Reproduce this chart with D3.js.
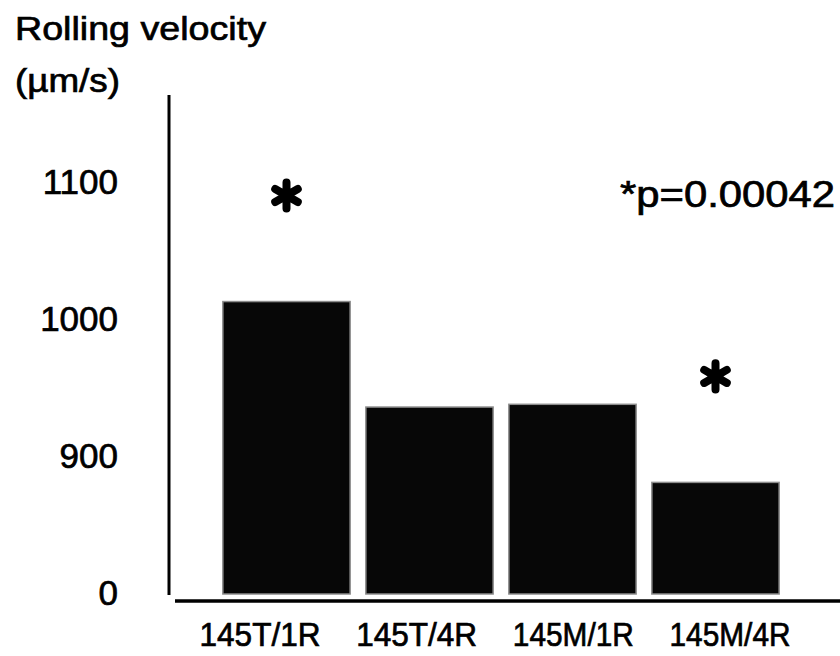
<!DOCTYPE html>
<html>
<head>
<meta charset="utf-8">
<script src="https://cdn.jsdelivr.net/npm/d3@7"></script>
<style>
	body { margin: 0; background: #fff; }
	text { font-family: "Liberation Sans", Arial, Helvetica, sans-serif; fill: #000; stroke: #000; stroke-width: 0.7px; }
</style>
</head>
<body>
<div id="chart"></div>
<script>
var width = 840;
var height = 656;

// Data (axis is broken: the "0" label sits where 800 would be)
var categories = ["145T/1R", "145T/4R", "145M/1R", "145M/4R"];
var velocity = [1012, 935, 937, 880];
var significant = [true, false, false, true];
var tickValues = [800, 900, 1000, 1100];
var tickLabels = ["0", "900", "1000", "1100"];
var pLabel = "*p=0.00042";

var svg = d3.select("#chart")
	.append("svg")
		.attr("width", width)
		.attr("height", height)
	;

var x = d3.scaleBand()
	.domain(categories)
	.range([215, 787])
	.paddingInner(0.11)
	.paddingOuter(0.055)
	;

// category labels drift a bit wider than the bars in the original
var xLabel = d3.scalePoint()
	.domain(categories)
	.range([260, 730])
	;

var y = d3.scaleLinear()
	.domain([800, 1100])
	.range([592, 181])
	;

// Bars
svg.selectAll("rect.bar")
	.data(velocity)
	.enter()
	.append("rect")
		.attr("class", "bar")
		.attr("x", (d, i) => x(categories[i]))
		.attr("y", d => y(d))
		.attr("width", x.bandwidth())
		.attr("height", d => y(800) + 2 - y(d))
		.attr("fill", "#070707")
		.attr("stroke", "#8c8c8c")
		.attr("stroke-width", 1.5)
	;

// Significance asterisks above bars
var star = d3.symbol().type(d3.symbolAsterisk).size(480);
svg.selectAll("path.star")
	.data(categories.filter((c, i) => significant[i]))
	.enter()
	.append("path")
		.attr("class", "star")
		.attr("d", star)
		.attr("transform", d => "translate(" + (x(d) + x.bandwidth() / 2) + "," + (y(velocity[categories.indexOf(d)]) - 106) + ")")
		.attr("fill", "none")
		.attr("stroke", "#000")
		.attr("stroke-width", 8)
		.attr("stroke-linecap", "round")
	;

// Y axis line
svg.append("line")
	.attr("x1", 169).attr("x2", 169)
	.attr("y1", 95).attr("y2", y(800) + 3)
	.attr("stroke", "#000")
	.attr("stroke-width", 3)
	;

// X axis line
svg.append("line")
	.attr("x1", 175).attr("x2", width)
	.attr("y1", 601).attr("y2", 601)
	.attr("stroke", "#000")
	.attr("stroke-width", 3.5)
	;

// Y tick labels
svg.selectAll("text.ytick")
	.data(tickValues)
	.enter()
	.append("text")
		.attr("class", "ytick")
		.attr("x", 118)
		.attr("y", d => y(d))
		.attr("dy", "0.36em")
		.attr("text-anchor", "end")
		.attr("font-size", 35)
		.text((d, i) => tickLabels[i])
	;

// Category labels
svg.selectAll("text.xtick")
	.data(categories)
	.enter()
	.append("text")
		.attr("class", "xtick")
		.attr("x", d => xLabel(d))
		.attr("y", 646)
		.attr("text-anchor", "middle")
		.attr("font-size", 33)
		.attr("textLength", 121)
		.attr("lengthAdjust", "spacingAndGlyphs")
		.text(d => d)
	;

// Axis title
svg.append("text")
	.attr("x", 15).attr("y", 40)
	.attr("font-size", 33)
	.attr("textLength", 251)
	.attr("lengthAdjust", "spacingAndGlyphs")
	.text("Rolling velocity");

svg.append("text")
	.attr("x", 15).attr("y", 92)
	.attr("font-size", 33)
	.attr("textLength", 105)
	.attr("lengthAdjust", "spacingAndGlyphs")
	.text("(\u00b5m/s)");

// p-value note
svg.append("text")
	.attr("x", 620).attr("y", 207)
	.attr("font-size", 36)
	.attr("textLength", 215)
	.attr("lengthAdjust", "spacingAndGlyphs")
	.text(pLabel);
</script>
</body>
</html>
